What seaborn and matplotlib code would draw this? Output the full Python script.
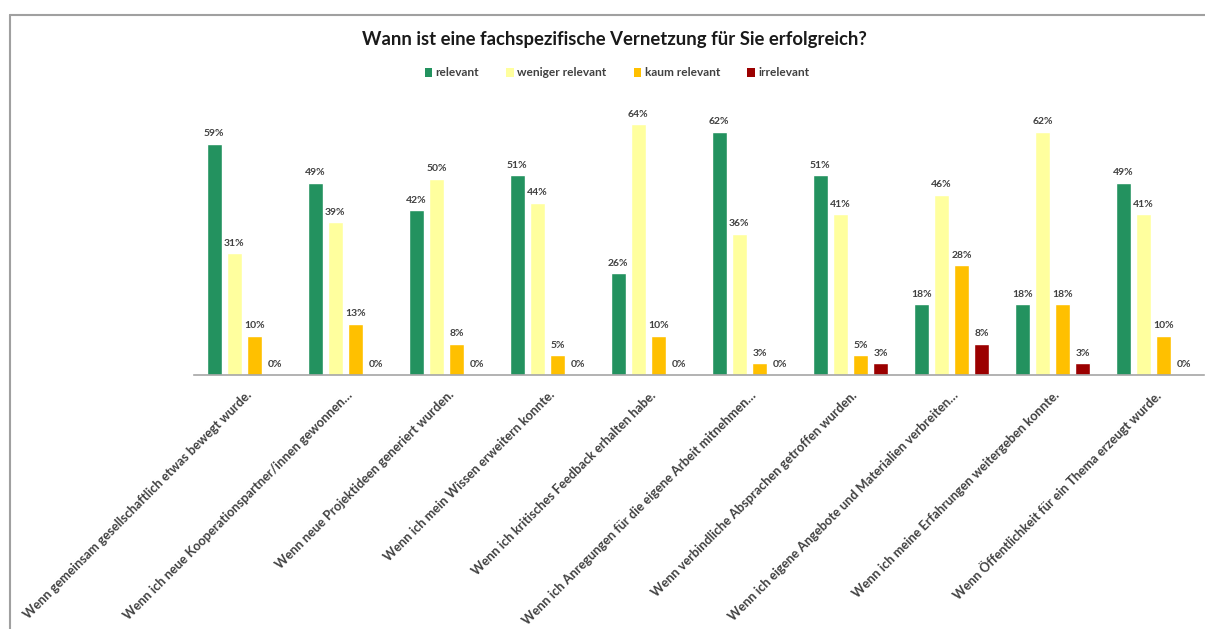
import numpy as np
import pandas as pd
import seaborn as sns
import matplotlib
matplotlib.use("Agg")
import matplotlib.pyplot as plt
from matplotlib.lines import Line2D
from matplotlib.patches import Patch
import matplotlib.transforms as mtransforms

title = "Wann ist eine fachspezifische Vernetzung für Sie erfolgreich?"
categories = [
    "Wenn gemeinsam gesellschaftlich etwas bewegt wurde.",
    "Wenn ich neue Kooperationspartner/innen gewonnen…",
    "Wenn neue Projektideen generiert wurden.",
    "Wenn ich mein Wissen erweitern konnte.",
    "Wenn ich kritisches Feedback erhalten habe.",
    "Wenn ich Anregungen für die eigene Arbeit mitnehmen…",
    "Wenn verbindliche Absprachen getroffen wurden.",
    "Wenn ich eigene Angebote und Materialien verbreiten…",
    "Wenn ich meine Erfahrungen weitergeben konnte.",
    "Wenn Öffentlichkeit für ein Thema erzeugt wurde.",
]
series = ["relevant", "weniger relevant", "kaum relevant", "irrelevant"]
relevant = [59, 49, 42, 51, 26, 62, 51, 18, 18, 49]
weniger_relevant = [31, 39, 50, 44, 64, 36, 41, 46, 62, 41]
kaum_relevant = [10, 13, 8, 5, 10, 3, 5, 28, 18, 10]
irrelevant = [0, 0, 0, 0, 0, 0, 3, 8, 3, 0]
colors = ["#23925F", "#FFFF9E", "#FFC000", "#9B0000"]

values = [relevant, weniger_relevant, kaum_relevant, irrelevant]
rows = []
for s, vals in zip(series, values):
    for c, v in zip(categories, vals):
        rows.append({"Kategorie": c, "Serie": s, "Wert": v})
df = pd.DataFrame(rows)

sns.set_theme(style="white")
plt.rcParams["font.family"] = ["Lato", "DejaVu Sans"]

W, H = 1205, 629
fig = plt.figure(figsize=(W / 100, H / 100), dpi=100)
ax_left, ax_right = 194 / W, 1204 / W
ax_bottom = (H - 375) / H
ymax = 70
ax_top = (H - (375 - ymax * 3.92)) / H
ax = fig.add_axes([ax_left, ax_bottom, ax_right - ax_left, ax_top - ax_bottom])

sns.barplot(data=df, x="Kategorie", y="Wert", hue="Serie", hue_order=series,
            order=categories, palette=colors, width=0.8, gap=0.25,
            saturation=1, legend=False, ax=ax, errorbar=None)

ax.set_ylim(0, ymax)
ax.set_xlim(-0.5, len(categories) - 0.5)
ax.set_xlabel("")
ax.set_ylabel("")
ax.set_yticks([])
for sp in ["top", "right", "left"]:
    ax.spines[sp].set_visible(False)
ax.spines["bottom"].set_color("#A6A6A6")
ax.spines["bottom"].set_linewidth(1.2)
ax.tick_params(axis="x", length=0, pad=0)
ax.set_facecolor("white")

for cont in ax.containers:
    ax.bar_label(cont, labels=[f"{v:.0f}%" for v in cont.datavalues],
                 padding=4, fontsize=7.5, fontweight="bold", color="#404040")

ax.set_xticks(range(len(categories)))
ax.set_xticklabels(categories, rotation=45, ha="right", va="center",
                   rotation_mode="anchor", fontsize=9.2, fontweight="bold",
                   color="#404040")
offset = mtransforms.ScaledTranslation(5 / 100, -18 / 100, fig.dpi_scale_trans)
for lbl in ax.get_xticklabels():
    lbl.set_transform(lbl.get_transform() + offset)

fig.text(0.51, 1 - 40 / H, title, ha="center", va="center",
         fontsize=13.3, fontweight="bold", color="#1a1a1a")

handles = [Patch(facecolor=c, edgecolor="none") for c in colors]
fig.legend(handles, series, loc="center", bbox_to_anchor=(0.512, 1 - 73 / H),
           bbox_transform=fig.transFigure, ncol=4, frameon=False,
           handlelength=0.6, handleheight=0.7, handletextpad=0.3,
           columnspacing=2.3, prop={"size": 8.6, "weight": "bold"},
           labelcolor="#404040")

fig.add_artist(Line2D([9.5 / W, 1], [1 - 15 / H, 1 - 15 / H],
                      transform=fig.transFigure, color="#A0A0A0", lw=1.5))
fig.add_artist(Line2D([9.5 / W, 9.5 / W], [0, 1 - 15 / H],
                      transform=fig.transFigure, color="#A0A0A0", lw=1.5))

fig.savefig("out.png", dpi=100, facecolor="white")
